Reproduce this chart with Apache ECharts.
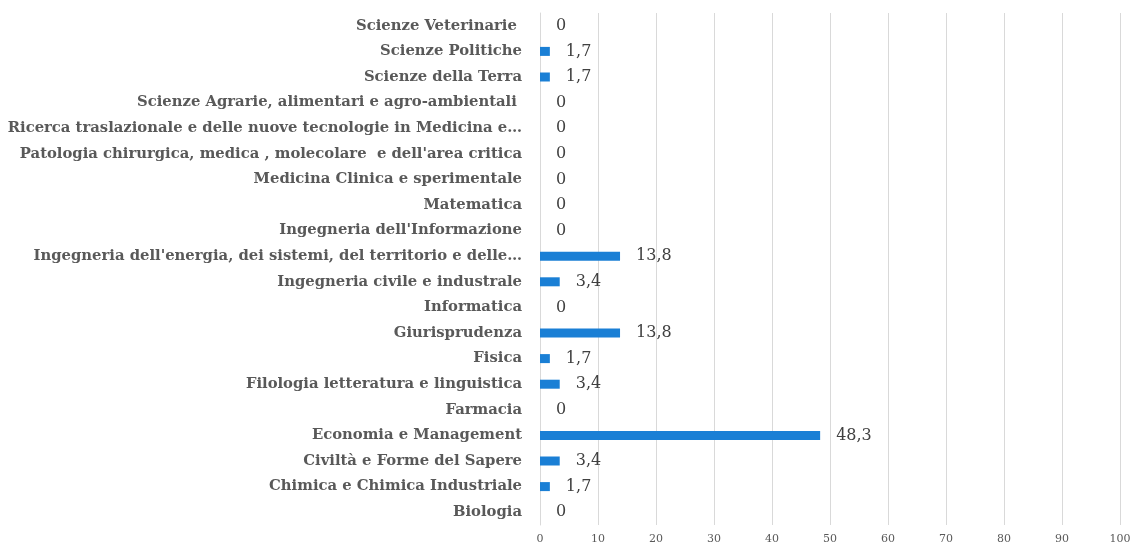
<!DOCTYPE html>
<html>
<head>
<meta charset="utf-8">
<script src="https://cdn.jsdelivr.net/npm/echarts@6/dist/echarts.min.js"></script>
<style>
  html, body { margin: 0; padding: 0; background: #fff; }
  #chart { width: 1135px; height: 545px; }
</style>
</head>
<body>
<div id="chart"></div>
<script>
  // categories bottom -> top, as in the picture
  const dipartimenti = [
    'Biologia',
    'Chimica e Chimica Industriale',
    'Civiltà e Forme del Sapere',
    'Economia e Management',
    'Farmacia',
    'Filologia letteratura e linguistica',
    'Fisica',
    'Giurisprudenza',
    'Informatica',
    'Ingegneria civile e industrale',
    "Ingegneria dell'energia, dei sistemi, del territorio e delle…",
    "Ingegneria dell'Informazione",
    'Matematica',
    'Medicina Clinica e sperimentale',
    "Patologia chirurgica, medica , molecolare  e dell'area critica",
    'Ricerca traslazionale e delle nuove tecnologie in Medicina e…',
    'Scienze Agrarie, alimentari e agro-ambientali ',
    'Scienze della Terra',
    'Scienze Politiche',
    'Scienze Veterinarie '
  ];
  const percentuali = [0, 1.7, 3.4, 48.3, 0, 3.4, 1.7, 13.8, 0, 3.4, 13.8, 0, 0, 0, 0, 0, 0, 1.7, 1.7, 0];

  let chart = echarts.init(document.getElementById('chart'));
  chart.setOption({
    animation: false,
    grid: {
      left: 540,
      right: 15,
      top: 13,
      bottom: 17
    },
    xAxis: {
      type: 'value',
      min: 0,
      max: 100,
      interval: 10,
      axisLine: { show: false },
      axisTick: { show: false },
      axisLabel: {
        color: '#595959',
        fontFamily: 'DejaVu Serif',
        fontSize: 11,
        margin: 9
      },
      splitLine: {
        lineStyle: { color: '#d9d9d9', width: 1 }
      }
    },
    yAxis: {
      type: 'category',
      data: dipartimenti,
      axisLine: { lineStyle: { color: '#d9d9d9', width: 1 } },
      axisTick: { show: false },
      axisLabel: {
        color: '#595959',
        fontFamily: 'DejaVu Serif',
        fontWeight: 'bold',
        fontSize: 14.8,
        margin: 18
      }
    },
    series: [{
      type: 'bar',
      data: percentuali,
      barWidth: 9,
      itemStyle: { color: '#1a7fd5' },
      label: {
        show: true,
        position: 'right',
        distance: 16,
        color: '#404040',
        fontFamily: 'DejaVu Serif',
        fontSize: 16,
        formatter: function (p) {
          return String(p.value).replace('.', ',');
        }
      }
    }]
  });
</script>
</body>
</html>
